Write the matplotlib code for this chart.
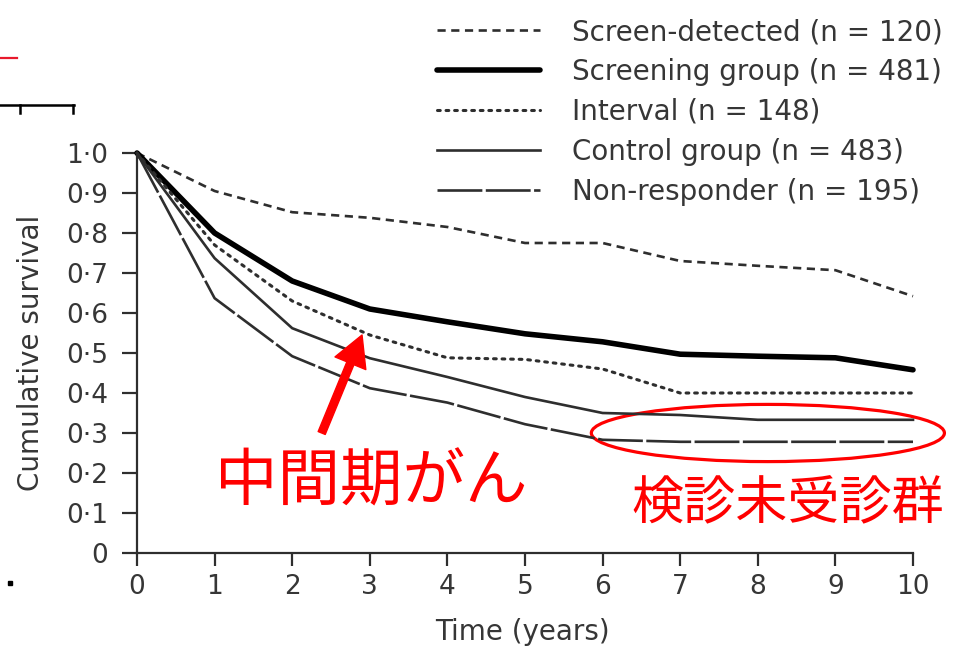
import matplotlib
matplotlib.use("Agg")
import matplotlib.pyplot as plt
from matplotlib.patches import Ellipse
from matplotlib.lines import Line2D

plt.rcParams['font.family'] = ['DejaVu Sans', 'Noto Sans CJK JP']

years = list(range(11))

screen_detected = [1.0, 0.905, 0.852, 0.838, 0.815, 0.775, 0.775, 0.730, 0.718, 0.707, 0.642]
screening_group = [1.0, 0.800, 0.680, 0.610, 0.578, 0.548, 0.528, 0.497, 0.492, 0.488, 0.458]
interval = [1.0, 0.770, 0.630, 0.545, 0.488, 0.484, 0.460, 0.400, 0.400, 0.400, 0.400]
control_group = [1.0, 0.737, 0.562, 0.487, 0.440, 0.390, 0.350, 0.345, 0.333, 0.333, 0.333]
non_responder = [1.0, 0.637, 0.492, 0.412, 0.376, 0.322, 0.283, 0.278, 0.278, 0.278, 0.278]

labels = ["Screen-detected (n = 120)", "Screening group (n = 481)",
          "Interval (n = 148)", "Control group (n = 483)",
          "Non-responder (n = 195)"]

yticks = [i / 10 for i in range(11)]
ytick_labels = ["0"] + [f"0·{i}" for i in range(1, 10)] + ["1·0"]

ink = "#2e2e2e"
txt = "#363636"

fig = plt.figure(figsize=(9.61, 6.49), dpi=100)
ax = fig.add_axes([137 / 961, 1 - 553 / 649, 776 / 961, 400 / 649])

ax.plot(years, screen_detected, color=ink, lw=1.9, dashes=(3.1, 2.1), clip_on=False, label=labels[0])
ax.plot(years, screening_group, color="black", lw=4.0, solid_capstyle="round", clip_on=False, label=labels[1])
ax.plot(years, interval, color=ink, lw=2.2, dashes=(0.9, 1.9), dash_capstyle="round", clip_on=False, label=labels[2])
ax.plot(years, control_group, color=ink, lw=1.9, clip_on=False, label=labels[3])
ax.plot(years, non_responder, color=ink, lw=1.9, dashes=(17, 1.3), clip_on=False, label=labels[4])

ax.set_xlim(0, 10)
ax.set_ylim(0, 1.0)
ax.set_xticks(years)
ax.set_yticks(yticks)
ax.set_yticklabels(ytick_labels)
for s in ["top", "right"]:
    ax.spines[s].set_visible(False)
for s in ["left", "bottom"]:
    ax.spines[s].set_color(ink)
    ax.spines[s].set_linewidth(1.6)
ax.tick_params(axis="y", length=11, width=1.6, color=ink, pad=10, labelsize=19, labelcolor=txt)
ax.tick_params(axis="x", length=9, width=1.6, color=ink, pad=6, labelsize=19, labelcolor=txt)

ax.set_xlabel("Time (years)", fontsize=20, color=txt)
ax.set_ylabel("Cumulative survival", fontsize=20, color=txt)
ax.xaxis.set_label_coords(0.497, -0.163)
ax.yaxis.set_label_coords(-0.119, 0.5)

fig.legend(loc="upper left", bbox_to_anchor=(437 / 961, 1 - 18 / 649),
           frameon=False, fontsize=20, handlelength=3.7, handletextpad=1.15,
           labelspacing=0.43, borderpad=0, borderaxespad=0, labelcolor=txt)

# red annotations
ax.annotate("", xy=(2.90, 0.545), xytext=(2.38, 0.30),
            arrowprops=dict(facecolor="red", edgecolor="red", width=5.5,
                            headwidth=24, headlength=22, shrink=0))
fig.text(215 / 961, 1 - 483 / 649, "中間期がん", color="red", fontsize=45,
         family=["Noto Sans CJK JP"], ha="left", va="center")
fig.text(631 / 961, 1 - 505 / 649, "検診未受診群", color="red", fontsize=37.5,
         family=["Noto Sans CJK JP"], ha="left", va="center")
ax.add_patch(Ellipse((8.13, 0.30), 4.55, 0.143, fill=False, edgecolor="red",
                     lw=2.3, clip_on=False))

# stray marks along the left edge
fig.add_artist(Line2D([0, 17 / 961], [1 - 58 / 649] * 2, color="#e8192c", lw=1.6))
fig.add_artist(Line2D([0, 74 / 961], [1 - 105 / 649] * 2, color="black", lw=1.8))
fig.add_artist(Line2D([20 / 961] * 2, [1 - 105 / 649, 1 - 113 / 649], color="black", lw=1.8))
fig.add_artist(Line2D([73 / 961] * 2, [1 - 105 / 649, 1 - 113 / 649], color="black", lw=1.8))
fig.add_artist(Line2D([10 / 961], [1 - 583 / 649], marker="s", ms=3.5, color="black", lw=0))

fig.savefig("out.png", dpi=100)
